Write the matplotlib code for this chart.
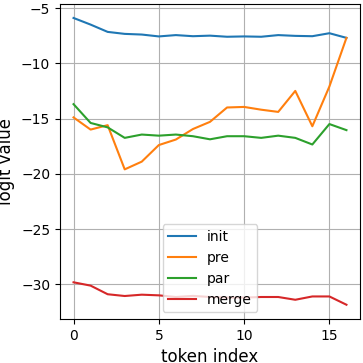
import matplotlib
matplotlib.use("Agg")
import matplotlib.pyplot as plt

tokens = list(range(17))
init = [-5.9, -6.5, -7.16, -7.34, -7.4, -7.57, -7.45, -7.55, -7.5, -7.6, -7.57, -7.6, -7.45, -7.52, -7.55, -7.28, -7.7]
pre = [-14.9, -16.0, -15.6, -19.6, -18.9, -17.4, -16.9, -15.95, -15.3, -14.0, -13.95, -14.2, -14.4, -12.5, -15.7, -12.1, -7.7]
par = [-13.7, -15.4, -15.8, -16.75, -16.45, -16.55, -16.45, -16.6, -16.88, -16.6, -16.6, -16.75, -16.55, -16.75, -17.35, -15.5, -16.05]
merge = [-29.82, -30.12, -30.9, -31.06, -30.94, -31.0, -31.15, -31.05, -31.15, -31.2, -31.2, -31.15, -31.15, -31.4, -31.1, -31.1, -31.85]

fig = plt.figure(figsize=(3.63, 3.63), dpi=100)
ax = fig.add_axes([0.165, 0.121, 0.827, 0.869])
ax.plot(tokens, init, label="init")
ax.plot(tokens, pre, label="pre")
ax.plot(tokens, par, label="par")
ax.plot(tokens, merge, label="merge")
ax.grid(True)
ax.set_xlabel("token index", fontsize=12)
ax.set_ylabel("logit value", fontsize=12)
ax.legend(loc="lower center")
fig.savefig("out.png", dpi=100)
